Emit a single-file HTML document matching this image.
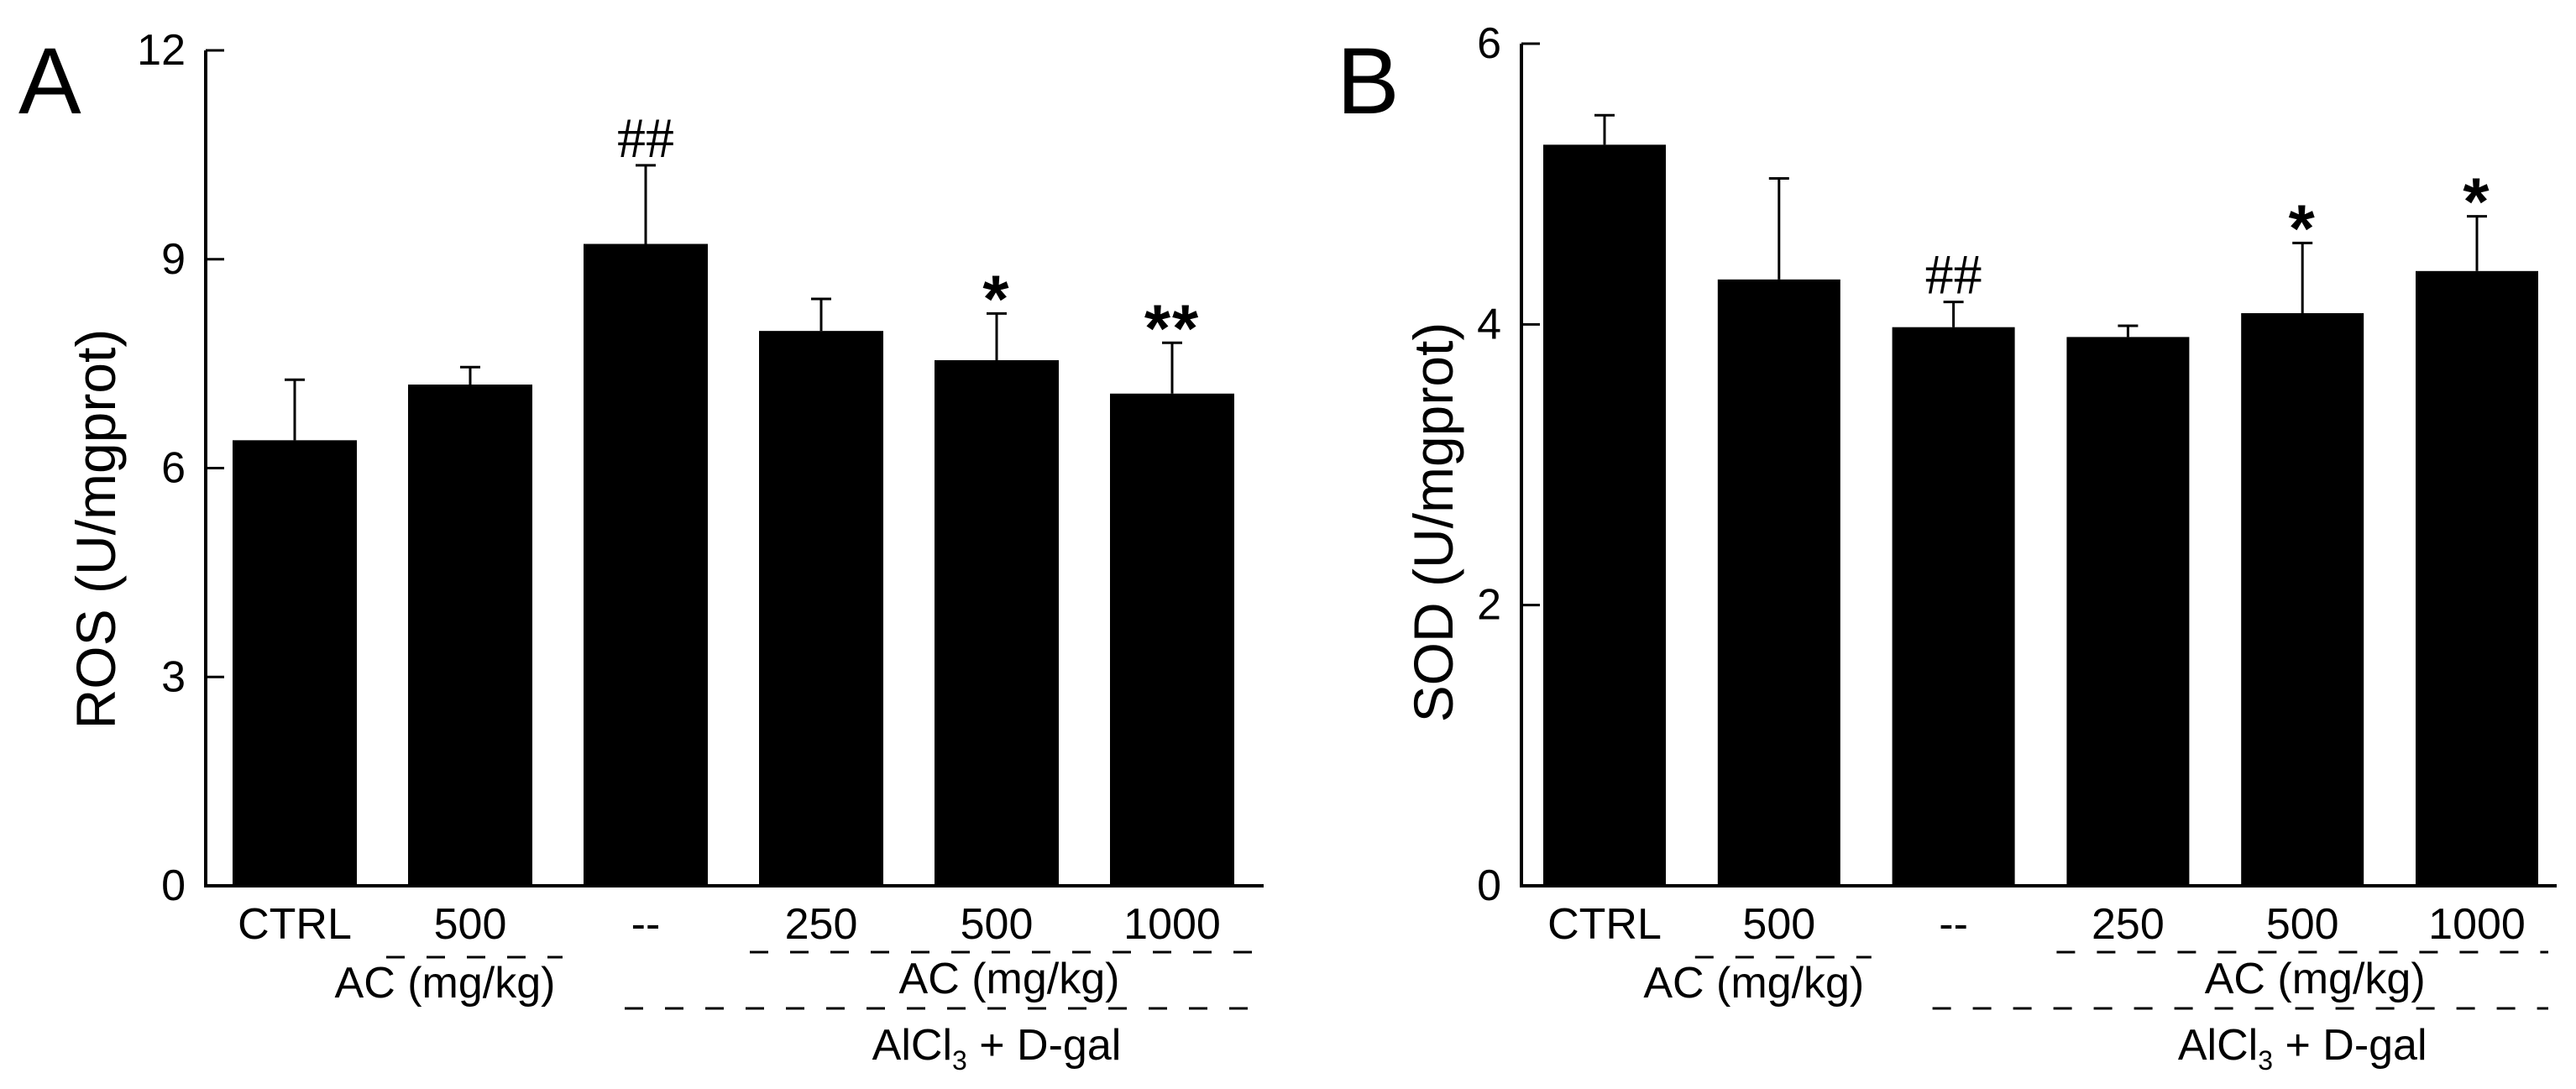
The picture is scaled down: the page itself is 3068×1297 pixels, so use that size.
<!DOCTYPE html>
<html><head><meta charset="utf-8"><style>
html,body{margin:0;padding:0;background:#fff;overflow:hidden;}
svg{display:block;font-family:"Liberation Sans",Arial,sans-serif;}
</style></head><body>
<svg id="chart" width="3068" height="1297" viewBox="0 0 3068 1297" xmlns="http://www.w3.org/2000/svg"></svg>
<script>
const categories = ["CTRL","500","--","250","500","1000"];
const rosValues = [6.4, 7.2, 9.22, 7.97, 7.55, 7.07];
const rosErrors = [0.87, 0.25, 1.13, 0.46, 0.67, 0.73];
const rosMarks = ["", "", "##", "", "*", "**"];
const rosTicks = [0, 3, 6, 9, 12];
const sodValues = [5.28, 4.32, 3.98, 3.91, 4.08, 4.38];
const sodErrors = [0.21, 0.72, 0.18, 0.08, 0.5, 0.39];
const sodMarks = ["", "", "##", "", "*", "*"];
const sodTicks = [0, 2, 4, 6];

const NS = "http://www.w3.org/2000/svg";
const svg = document.getElementById("chart");
function mk(tag, attrs, parent, text){
  const e = document.createElementNS(NS, tag);
  for (const k in attrs) e.setAttribute(k, attrs[k]);
  if (text !== undefined) e.textContent = text;
  (parent || svg).appendChild(e);
  return e;
}

function panel(cfg){
  const g = mk("g", {});
  
  
  const y = v => cfg.y0 - (v / cfg.max) * (cfg.y0 - cfg.yTop);
  const xc = i => cfg.firstX + i * cfg.step;
  const ya = mk("line", {x1:cfg.ax, y1:cfg.yTop, x2:cfg.ax, y2:cfg.y0+1, stroke:"#000","stroke-width":4}, g);
  
  
  const xa = mk("line", {x1:cfg.ax-2, y1:cfg.y0, x2:cfg.axEnd, y2:cfg.y0, stroke:"#000","stroke-width":4}, g);
  
  
  cfg.ticks.forEach(t => {
    const tk = mk("line", {x1:cfg.ax, y1:y(t), x2:cfg.ax+22, y2:y(t), stroke:"#000","stroke-width":3}, g);
    
    
    const tl = mk("text", {x:cfg.ax-24, y:y(t)+17, "text-anchor":"end","font-size":52}, g, String(t));
    
    
  });
  cfg.values.forEach((v, i) => {
    const cx = xc(i);
    const bar = mk("rect", {x:cx-cfg.bw/2, y:y(v), width:cfg.bw, height:cfg.y0-y(v), fill:"#000"}, g);
    
    
    const top = y(v + cfg.errors[i]);
    const el = mk("line", {x1:cx, y1:top, x2:cx, y2:y(v), stroke:"#000","stroke-width":3}, g);
    
    
    const ec = mk("line", {x1:cx-12, y1:top, x2:cx+12, y2:top, stroke:"#000","stroke-width":3}, g);
    
    
    if (cfg.marks[i]) {
      const isHash = cfg.marks[i].startsWith("#");
      const m = mk("text", isHash ?
        {x:cx, y:top-10, "text-anchor":"middle","font-size":68,"font-family":"Liberation Serif, serif"} :
        {x:cx, y:top+10, "text-anchor":"middle","font-size":80,"font-weight":"bold","letter-spacing":"2"}, g, cfg.marks[i]);
      
      
    }
    const cl = mk("text", {x:cx, y:1118, "text-anchor":"middle","font-size":52}, g, categories[i]);
    
    
  });
  const dash = {stroke:"#000","stroke-width":3,"stroke-dasharray":"22 26"};
  const d1 = mk("line", Object.assign({x1:xc(1)-100, y1:1140, x2:xc(1)+110, y2:1140}, dash), g);
  
  
  const t1 = mk("text", {x:xc(1)-30, y:1188, "text-anchor":"middle","font-size":52}, g, "AC (mg/kg)");
  
  
  const d2 = mk("line", Object.assign({x1:xc(3)-85, y1:1134, x2:cfg.axEnd-10, y2:1134}, dash), g);
  
  
  const t2 = mk("text", {x:xc(4)+15, y:1183, "text-anchor":"middle","font-size":52}, g, "AC (mg/kg)");
  
  
  const d3 = mk("line", Object.assign({x1:xc(2)-25, y1:1201, x2:cfg.axEnd-10, y2:1201}, dash), g);
  
  
  const t3 = mk("text", {x:xc(4), y:1262, "text-anchor":"middle","font-size":52}, g);
  
  
  mk("tspan", {}, t3, "AlCl");
  mk("tspan", {"font-size":32, dy:12}, t3, "3");
  mk("tspan", {dy:-12}, t3, " + D-gal");
  const yt = mk("text", {x:cfg.titleX, y:cfg.titleY, "text-anchor":"middle","font-size":66, transform:`rotate(-90 ${cfg.titleX} ${cfg.titleY})`}, g, cfg.title);
  
  
  const pl = mk("text", {x:cfg.letterX, y:135, "font-size":112}, g, cfg.letter);
  
  
}

panel({name:"panel-a-ros", ax:245, axEnd:1505, y0:1055, yTop:60, max:12, ticks:rosTicks,
  firstX:351, step:209, bw:148, values:rosValues, errors:rosErrors, marks:rosMarks,
  title:"ROS (U/mgprot)", titleX:137, titleY:630, letter:"A", letterX:22});
panel({name:"panel-b-sod", ax:1812, axEnd:3045, y0:1055, yTop:52, max:6, ticks:sodTicks,
  firstX:1911, step:207.8, bw:146, values:sodValues, errors:sodErrors, marks:sodMarks,
  title:"SOD (U/mgprot)", titleX:1730, titleY:622, letter:"B", letterX:1592});
</script>
</body></html>
